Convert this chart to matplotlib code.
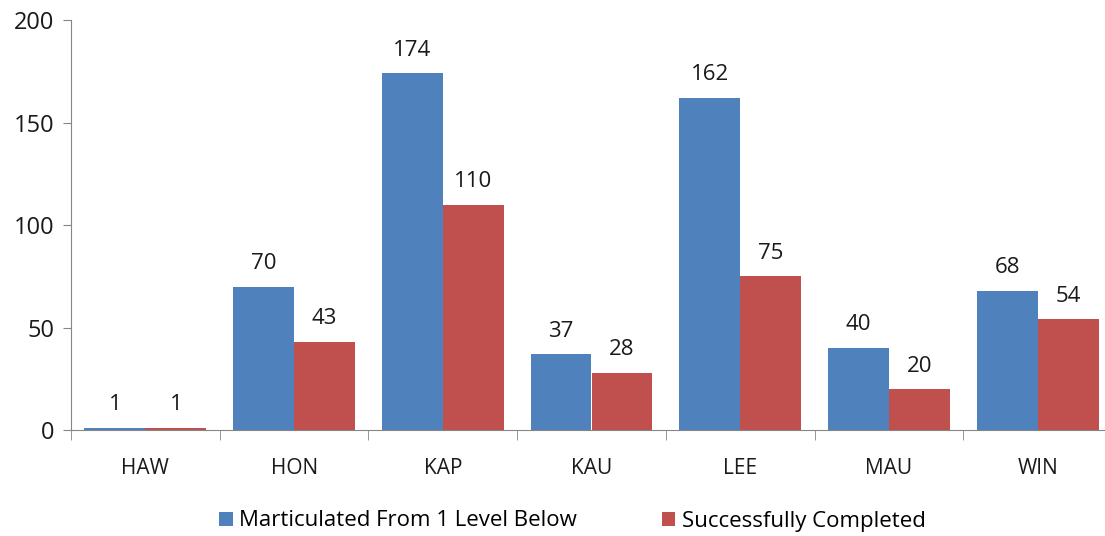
import matplotlib.pyplot as plt
import numpy as np

categories = ['HAW', 'HON', 'KAP', 'KAU', 'LEE', 'MAU', 'WIN']
marticulated = [1, 70, 174, 37, 162, 40, 68]
completed = [1, 43, 110, 28, 75, 20, 54]
series_names = ['Marticulated From 1 Level Below', 'Successfully Completed']
colors = ['#4F81BD', '#C0504D']

plt.rcParams['font.family'] = ['Open Sans', 'DejaVu Sans']

fig = plt.figure(figsize=(11.05, 5.36), dpi=100, facecolor='white')
# axis runs past the right edge of the picture, like the reference
ax = fig.add_axes([71 / 1105, 1 - 430 / 536, (1112 - 71) / 1105, 410 / 536])

x = np.arange(len(categories))
w = 0.41
bars1 = ax.bar(x - w / 2, marticulated, w, color=colors[0], label=series_names[0])
bars2 = ax.bar(x + w / 2, completed, w, color=colors[1], label=series_names[1])

for bars, vals in ((bars1, marticulated), (bars2, completed)):
    for b, v in zip(bars, vals):
        ax.annotate(str(v), (b.get_x() + b.get_width() / 2, v),
                    xytext=(0, 9), textcoords='offset points',
                    ha='center', va='bottom', fontsize=16, color='#1a1a1a')

ax.set_xlim(-0.5, len(categories) - 0.5)
ax.set_ylim(0, 200)
ax.set_yticks([0, 50, 100, 150, 200])

ax.set_xticks(x)
ax.set_xticklabels(categories)
ax.set_xticks(np.arange(-0.5, len(categories)), minor=True)
ax.tick_params(axis='x', which='major', length=0, pad=20, labelsize=15, labelcolor='#1a1a1a')
ax.tick_params(axis='x', which='minor', length=7, color='#868686', direction='out')
ax.tick_params(axis='y', length=6, color='#868686', labelsize=17, labelcolor='#1a1a1a', pad=6)

for s in ('top', 'right'):
    ax.spines[s].set_visible(False)
for s in ('left', 'bottom'):
    ax.spines[s].set_color('#868686')

fig.legend(loc='center', bbox_to_anchor=(0.518, 1 - 521 / 536), ncol=2,
           frameon=False, fontsize=16, handlelength=0.6, handleheight=0.6,
           columnspacing=3.8, handletextpad=0.3, borderpad=0)

fig.savefig('out.png', dpi=100)
